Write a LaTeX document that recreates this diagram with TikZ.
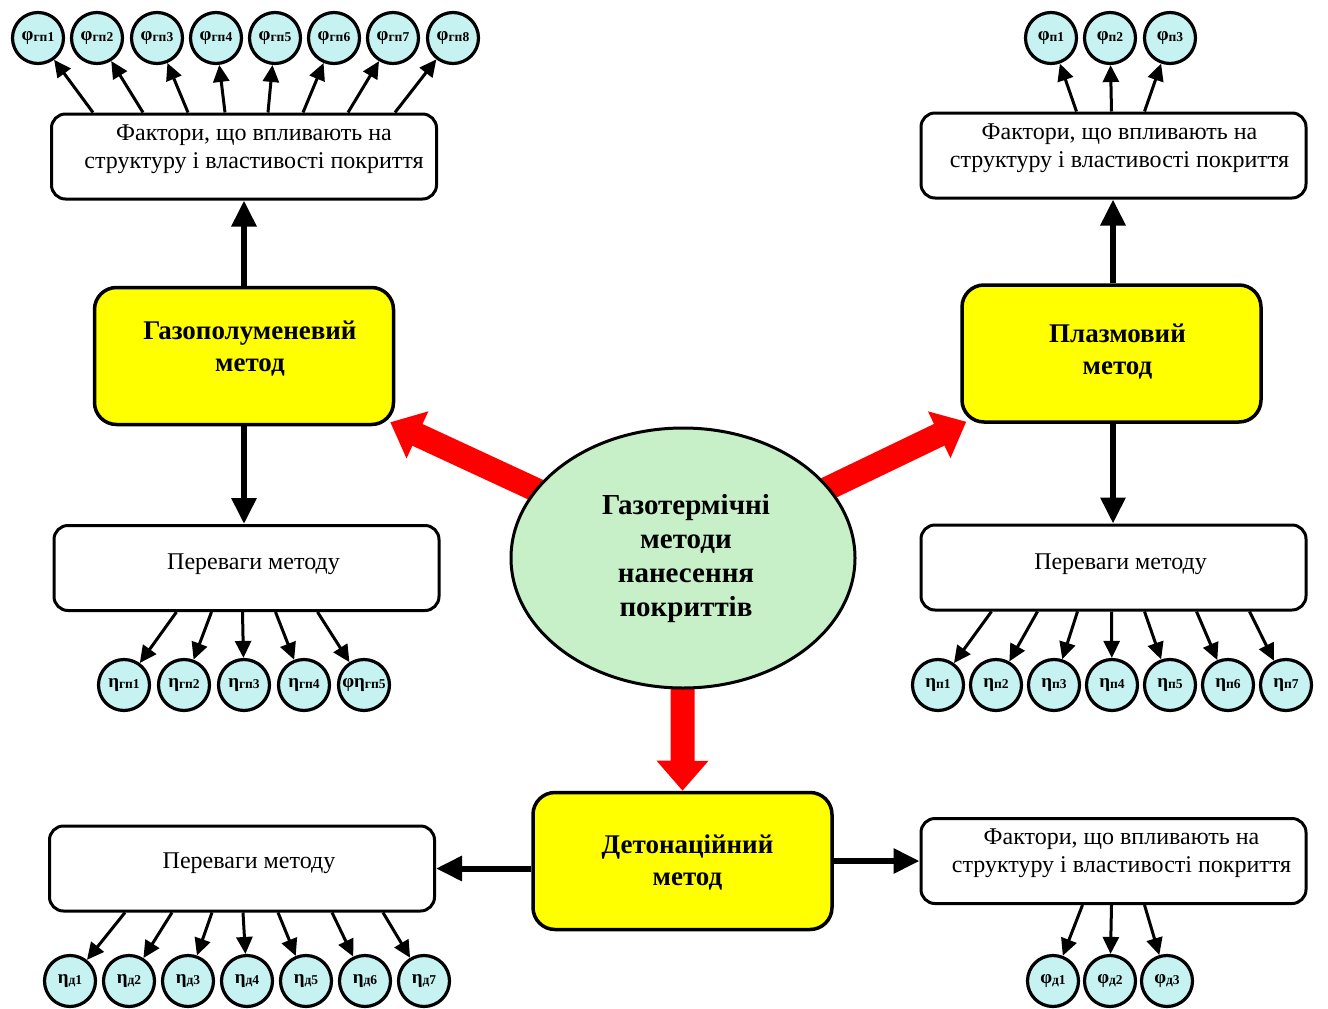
\documentclass[tikz,border=0pt]{standalone}
\usepackage{fontspec}
\setmainfont{Liberation Serif}
\usetikzlibrary{arrows.meta,shapes.geometric,calc,backgrounds}
\definecolor{ballfill}{HTML}{C6F2F2}
\definecolor{ovalfill}{HTML}{C8F0C8}
\definecolor{methodfill}{HTML}{FFFF00}
% small lowered index used inside the circle labels
\newcommand\lowidx[1]{{\fontsize{13.5}{13.5}\selectfont\raisebox{-1.5pt}{#1}}}

\begin{document}
\begin{tikzpicture}[x=1pt,y=-1pt,
  ball/.style={circle,draw,line width=3.2pt,fill=ballfill,minimum size=51pt,inner sep=0pt,
    font=\fontsize{19}{19}\selectfont\bfseries},
  infobox/.style={draw,line width=3pt,rounded corners=14pt,fill=white,
    minimum width=385pt,minimum height=85pt,inner sep=0pt},
  methodbox/.style={draw,line width=3.5pt,rounded corners=22pt,fill=methodfill,
    minimum width=299pt,minimum height=137pt,inner sep=0pt},
  boxtext/.style={align=center,font=\fontsize{24}{28}\selectfont},
  methodtext/.style={align=center,font=\fontsize{27}{32}\selectfont\bfseries},
  thinarrow/.style={line width=3pt,-{Triangle[length=17pt,width=16pt]}},
  thickarrow/.style={line width=6pt,-{Triangle[length=26pt,width=24pt]}},
  redarrow/.style={line width=24pt,red,-{Triangle[length=30pt,width=50pt]}}
]
\useasboundingbox (0,0) rectangle (1328,1009);

% ---------- central oval ----------
\node[ellipse,draw,line width=3pt,fill=ovalfill,minimum width=344pt,minimum height=260pt,inner sep=0pt]
  (hub) at (683,558) {};
\node[align=center,font=\fontsize{29}{34}\selectfont\bfseries] (hub-t) at (686,559)
  {Газотермічні\\методи\\нанесення\\покриттів};

% ---------- method boxes ----------
\node[methodbox] (yg) at (244,356) {};
\node[methodtext] (yg-t) at ([shift={(6,-7)}]yg.center) {Газополуменевий\\метод};
\node[methodbox] (yp) at (1111.5,353.5) {};
\node[methodtext] (yp-t) at ([shift={(6,-2)}]yp.center) {Плазмовий\\метод};
\node[methodbox] (yd) at (682.5,861) {};
\node[methodtext] (yd-t) at ([shift={(5,1)}]yd.center) {Детонаційний\\метод};

% ---------- information boxes ----------
\node[infobox] (fg) at (244,156.5) {};
\node[boxtext] (fg-t) at ([shift={(10,-7)}]fg.center) {Фактори, що впливають на\\структуру і властивості покриття};
\node[infobox] (fp) at (1113.5,155.5) {};
\node[boxtext] (fp-t) at ([shift={(6,-7)}]fp.center) {Фактори, що впливають на\\структуру і властивості покриття};
\node[infobox] (fd) at (1113.5,861) {};
\node[boxtext] (fd-t) at ([shift={(8,-8)}]fd.center) {Фактори, що впливають на\\структуру і властивості покриття};
\node[infobox] (pg) at (246.5,568) {};
\node[boxtext] (pg-t) at ([shift={(7,-4)}]pg.center) {Переваги методу};
\node[infobox] (pp) at (1113.5,567.5) {};
\node[boxtext] (pp-t) at ([shift={(7,-3)}]pp.center) {Переваги методу};
\node[infobox] (pd) at (242,868.5) {};
\node[boxtext] (pd-t) at ([shift={(7,-5)}]pd.center) {Переваги методу};

% ---------- red arrows from the oval ----------
\begin{scope}[on background layer]
  \draw[redarrow] (hub.center) -- ([shift={(-5,-4)}]yg.south east);
  \draw[redarrow] (hub.center) -- ([shift={(6,-2)}]yp.south west);
  \draw[redarrow] (hub.center) -- (yd.north);
\end{scope}

% ---------- thick black arrows ----------
\draw[thickarrow] (yg.north) -- (yg.north |- fg.south);
\draw[thickarrow] (yg.south) -- (yg.south |- pg.north);
\draw[thickarrow] ([xshift=1.5]yp.north) -- ([xshift=1.5]yp.north |- fp.south);
\draw[thickarrow] ([xshift=1.5]yp.south) -- ([xshift=1.5]yp.south |- pp.north);
\draw[thickarrow] (yd.west |- pd.east) -- (pd.east);
\draw[thickarrow] (yd.east) -- (yd.east -| fd.west);

% ---------- circles ----------
\foreach \i/\x in {1/38,2/97,3/157,4/216,5/275,6/334,7/393,8/453}
  \node[ball] (g\i) at (\x,38) {φ\lowidx{гп\i}};
\foreach \i/\x in {1/1051,2/1110,3/1170}
  \node[ball] (pf\i) at (\x,38) {φ\lowidx{п\i}};
\foreach \i/\x in {1/124,2/184,3/244,4/304}
  \node[ball] (ge\i) at (\x,685) {η\lowidx{гп\i}};
\node[ball] (ge5) at (364,685) {φη\lowidx{гп5}};
\foreach \i/\x in {1/938,2/996,3/1054,4/1112,5/1170,6/1228,7/1286}
  \node[ball] (pe\i) at (\x,685) {η\lowidx{п\i}};
\foreach \i/\x in {1/70,2/129,3/188,4/247,5/306,6/365,7/424}
  \node[ball] (de\i) at (\x,981) {η\lowidx{д\i}};
\foreach \i/\x in {1/1053,2/1110,3/1167}
  \node[ball] (df\i) at (\x,981) {φ\lowidx{д\i}};

% ---------- thin arrows to the circles ----------
\foreach \i/\d in {1/43,2/93,3/138,4/175,5/218,6/253,7/298,8/345}
  \draw[thinarrow] ([xshift=\d]fg.north west) -- (g\i);
\foreach \i/\d in {1/157,2/192,3/225}
  \draw[thinarrow] ([xshift=\d]fp.north west) -- (pf\i);
\foreach \i/\d in {1/124,2/159,3/190,4/223,5/265}
  \draw[thinarrow] ([xshift=\d]pg.south west) -- (ge\i);
\foreach \i/\d in {1/72,2/118,3/158,4/192,5/225,6/277,7/330}
  \draw[thinarrow] ([xshift=\d]pp.south west) -- (pe\i);
\foreach \i/\d in {1/77,2/124,3/164,4/195,5/230,6/284,7/335}
  \draw[thinarrow] ([xshift=\d]pd.south west) -- (de\i);
\foreach \i/\d in {1/163,2/192,3/225}
  \draw[thinarrow] ([xshift=\d]fd.south west) -- (df\i);
\end{tikzpicture}
\end{document}
